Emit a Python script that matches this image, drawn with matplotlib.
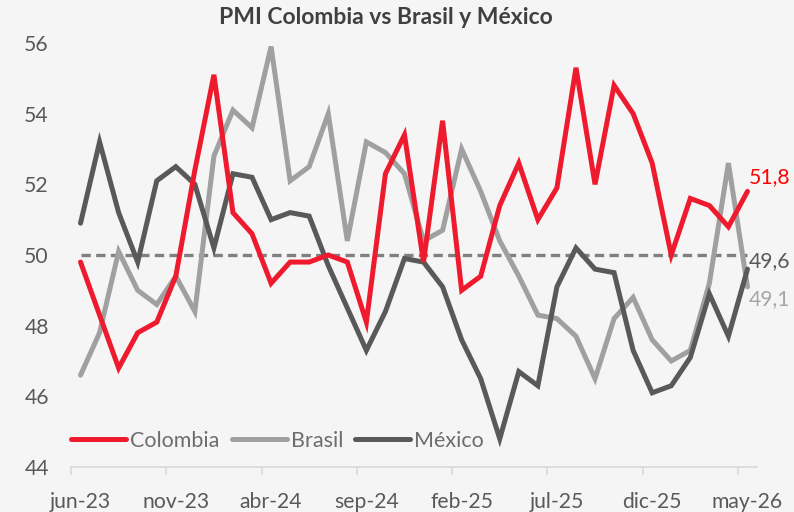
import matplotlib
matplotlib.use("Agg")
import matplotlib.pyplot as plt
from matplotlib.ticker import FixedLocator

plt.rcParams['font.family'] = ['Lato', 'DejaVu Sans']

months = ["jun-23", "jul-23", "ago-23", "sep-23", "oct-23", "nov-23", "dic-23",
          "ene-24", "feb-24", "mar-24", "abr-24", "may-24", "jun-24", "jul-24",
          "ago-24", "sep-24", "oct-24", "nov-24", "dic-24", "ene-25", "feb-25",
          "mar-25", "abr-25", "may-25", "jun-25", "jul-25", "ago-25", "sep-25",
          "oct-25", "nov-25", "dic-25", "ene-26", "feb-26", "mar-26", "abr-26",
          "may-26"]

colombia = [49.8, 48.3, 46.8, 47.8, 48.1, 49.4, 52.4, 55.1, 51.2, 50.6, 49.2, 49.8,
            49.8, 50.0, 49.8, 48.1, 52.3, 53.4, 49.8, 53.8, 49.0, 49.4, 51.4, 52.6,
            51.0, 51.9, 55.3, 52.0, 54.8, 54.0, 52.6, 50.0, 51.6, 51.4, 50.8, 51.8]

brasil = [46.6, 47.8, 50.1, 49.0, 48.6, 49.4, 48.4, 52.8, 54.1, 53.6, 55.9, 52.1,
          52.5, 54.0, 50.4, 53.2, 52.9, 52.3, 50.4, 50.7, 53.0, 51.8, 50.4, 49.4,
          48.3, 48.2, 47.7, 46.5, 48.2, 48.8, 47.6, 47.0, 47.3, 49.2, 52.6, 49.1]

mexico = [50.9, 53.2, 51.2, 49.8, 52.1, 52.5, 52.0, 50.2, 52.3, 52.2, 51.0, 51.2,
          51.1, 49.7, 48.5, 47.3, 48.4, 49.9, 49.8, 49.1, 47.6, 46.5, 44.8, 46.7,
          46.3, 49.1, 50.2, 49.6, 49.5, 47.3, 46.1, 46.3, 47.1, 48.9, 47.7, 49.6]

threshold = [50.0] * len(months)

yticks = [44, 46, 48, 50, 52, 54, 56]

RED = "#EE1B2E"
LGRAY = "#A0A0A0"
DGRAY = "#595959"
BG = "#F5F5F5"
FS = 15.2

fig = plt.figure(figsize=(7.94, 5.12), dpi=100, facecolor=BG)
ax = fig.add_axes([71/794, 1-467/512, (757-71)/794, (467-43)/512])
ax.set_facecolor(BG)

x = list(range(len(months)))
ax.plot(x, threshold, color="#808080", lw=2.4, ls=(0, (2.8, 1.6)), zorder=1)
l1, = ax.plot(x, colombia, color=RED, lw=3.6, solid_capstyle='round', solid_joinstyle='miter', label="Colombia", zorder=3)
l2, = ax.plot(x, brasil, color=LGRAY, lw=3.6, solid_capstyle='round', solid_joinstyle='miter', label="Brasil", zorder=2)
l3, = ax.plot(x, mexico, color=DGRAY, lw=3.6, solid_capstyle='round', solid_joinstyle='miter', label="México", zorder=2)

ax.set_xlim(-0.5, len(months) - 0.5)
ax.set_ylim(44, 56)

for s in ["top", "right", "left"]:
    ax.spines[s].set_visible(False)
ax.spines["bottom"].set_color("#D9D9D9")
ax.spines["bottom"].set_linewidth(1.2)

ax.set_yticks(yticks)
ax.set_yticklabels([str(v) for v in yticks])
ax.tick_params(axis='y', length=0, pad=16, labelsize=FS, labelcolor="#595959")

label_pos = list(range(0, len(months), 5))
ax.set_xticks(label_pos)
ax.set_xticklabels([months[i] for i in label_pos])
ax.tick_params(axis='x', which='major', length=0, pad=18, labelsize=FS, labelcolor="#595959")
ax.xaxis.set_minor_locator(FixedLocator([p - 0.5 for p in label_pos]))
ax.tick_params(axis='x', which='minor', length=6, width=1.2, color="#D9D9D9", direction='out')

n = len(months) - 1
ax.annotate(f"{colombia[-1]:.1f}".replace(".", ","), (n, colombia[-1]), xytext=(1, 10.5),
            textcoords='offset points', color="#FF0000", fontsize=FS, va='center', ha='left',
            annotation_clip=False)
ax.annotate(f"{mexico[-1]:.1f}".replace(".", ","), (n, mexico[-1]), xytext=(1, 6),
            textcoords='offset points', color=DGRAY, fontsize=FS, va='center', ha='left',
            annotation_clip=False)
ax.annotate(f"{brasil[-1]:.1f}".replace(".", ","), (n, brasil[-1]), xytext=(1, -9),
            textcoords='offset points', color="#A6A6A6", fontsize=FS, va='center', ha='left',
            annotation_clip=False)

leg = ax.legend(handles=[l1, l2, l3], loc='center left', bbox_to_anchor=(0.0, 0.062),
                ncol=3, frameon=False, fontsize=15.5, handlelength=2.55, handletextpad=0.2,
                columnspacing=0.56, borderaxespad=0, borderpad=0)
for t in leg.get_texts():
    t.set_color("#6D6D6D")

fig.text(386/794, 1-18/512, "PMI Colombia vs Brasil y México", ha='center', va='center',
         fontsize=16.5, fontweight='bold', color="#404040")

fig.savefig("out.png", dpi=100, facecolor=BG)
